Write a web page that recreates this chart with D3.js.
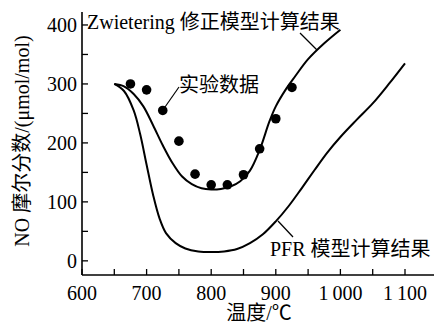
<!DOCTYPE html>
<html><head><meta charset="utf-8">
<script src="https://cdn.jsdelivr.net/npm/d3@7"></script>
<style>
html,body{margin:0;padding:0;background:#fff;}
text{font-family:"Liberation Serif","Times New Roman","Noto Sans CJK SC",serif;fill:#000;}
</style></head><body>
<svg id="chart" width="435" height="323"></svg>
<script>
// ---- data ----
const expTemps  = [675, 700, 725, 750, 775, 800, 825, 850, 875, 900, 925];
const expValues = [300, 290, 255, 203, 147, 129, 129, 146, 190, 241, 294];

const zwTemps  = [650, 665, 680, 695, 710, 725, 740, 755, 770, 785, 800, 815, 830, 845, 860, 875, 890, 900, 915, 930, 950, 975, 1000];
const zwValues = [300, 296, 283, 262, 230, 196, 166, 143, 130, 123, 121, 122, 126, 135, 153, 188, 236, 262, 290, 313, 342, 369, 392];

const pfrTemps  = [650, 665, 680, 690, 700, 710, 720, 730, 745, 760, 780, 800, 820, 840, 860, 880, 900, 920, 940, 960, 980, 1000, 1025, 1050, 1075, 1100];
const pfrValues = [300, 288, 255, 215, 163, 112, 72, 47, 30, 21, 16, 15, 16, 20, 30, 45, 67, 93, 123, 154, 184, 210, 239, 267, 300, 335];

const xTicks = [600, 700, 800, 900, 1000, 1100];
const xTickLabels = ["600", "700", "800", "900", "1\u2009000", "1\u2009100"];
const xMinor = [650, 750, 850, 950, 1050];
const yTicks = [0, 100, 200, 300, 400];
const yMinor = [50, 150, 250, 350];

const labelZw = "Zwietering 修正模型计算结果";
const labelExp = "实验数据";
const labelPfr = "PFR 模型计算结果";
const xTitle = "温度/℃";
const yTitle = "NO 摩尔分数/(μmol/mol)";

// ---- chart ----
const svg = d3.select("#chart");
const x = d3.scaleLinear().domain([600, 1100]).range([82, 405]);
const y = d3.scaleLinear().domain([-24, 422]).range([275, 12]);
const x0 = 82, yB = 275;
const fs = 20;

// axes lines
svg.append("line").attr("x1", x0).attr("x2", 434).attr("y1", yB).attr("y2", yB)
  .attr("stroke", "#000").attr("stroke-width", 1.6);
svg.append("line").attr("x1", x0).attr("x2", x0).attr("y1", 12).attr("y2", yB)
  .attr("stroke", "#000").attr("stroke-width", 1.6);

// x ticks (inward)
const xAll = xTicks.concat(xMinor);
svg.selectAll(".xt").data(xAll).enter().append("line")
  .attr("x1", d => x(d)).attr("x2", d => x(d)).attr("y1", yB).attr("y2", yB - 6)
  .attr("stroke", "#000").attr("stroke-width", 1.3);
svg.selectAll(".xl").data(xTicks).enter().append("text")
  .attr("x", (d) => x(d)).attr("y", 300).attr("text-anchor", "middle")
  .attr("font-size", fs).text((d, i) => xTickLabels[i]);

// y ticks
const yAll = yTicks.concat(yMinor);
svg.selectAll(".yt").data(yAll).enter().append("line")
  .attr("x1", x0).attr("x2", x0 + 6).attr("y1", d => y(d)).attr("y2", d => y(d))
  .attr("stroke", "#000").attr("stroke-width", 1.3);
svg.selectAll(".yl").data(yTicks).enter().append("text")
  .attr("x", 77).attr("y", d => y(d) + 7).attr("text-anchor", "end")
  .attr("font-size", fs).text(d => d);

// axis titles
svg.append("text").attr("x", 259).attr("y", 320).attr("text-anchor", "middle")
  .attr("font-size", fs).text(xTitle);
svg.append("text").attr("transform", "translate(29,141) rotate(-90)")
  .attr("text-anchor", "middle").attr("font-size", fs).text(yTitle);

// curves
const line = d3.line().x(d => x(d[0])).y(d => y(d[1])).curve(d3.curveCatmullRom.alpha(0.5));
svg.append("path").datum(zwTemps.map((t, i) => [t, zwValues[i]]))
  .attr("d", line).attr("fill", "none").attr("stroke", "#000").attr("stroke-width", 2);
svg.append("path").datum(pfrTemps.map((t, i) => [t, pfrValues[i]]))
  .attr("d", line).attr("fill", "none").attr("stroke", "#000").attr("stroke-width", 2);

// experimental points
svg.selectAll(".pt").data(expTemps).enter().append("circle")
  .attr("cx", d => x(d)).attr("cy", (d, i) => y(expValues[i])).attr("r", 4.8).attr("fill", "#000");

// annotations
svg.append("text").attr("x", 87).attr("y", 29).attr("font-size", fs).text(labelZw);
svg.append("line").attr("x1", 300).attr("y1", 33).attr("x2", 317).attr("y2", 50)
  .attr("stroke", "#000").attr("stroke-width", 1.2);

svg.append("text").attr("x", 179).attr("y", 92).attr("font-size", fs).text(labelExp);
svg.append("line").attr("x1", 179).attr("y1", 87).attr("x2", 165).attr("y2", 107)
  .attr("stroke", "#000").attr("stroke-width", 1.2);

svg.append("text").attr("x", 270).attr("y", 256).attr("font-size", fs).text(labelPfr);
svg.append("line").attr("x1", 278).attr("y1", 221).attr("x2", 293).attr("y2", 237)
  .attr("stroke", "#000").attr("stroke-width", 1.2);
</script>
</body></html>
